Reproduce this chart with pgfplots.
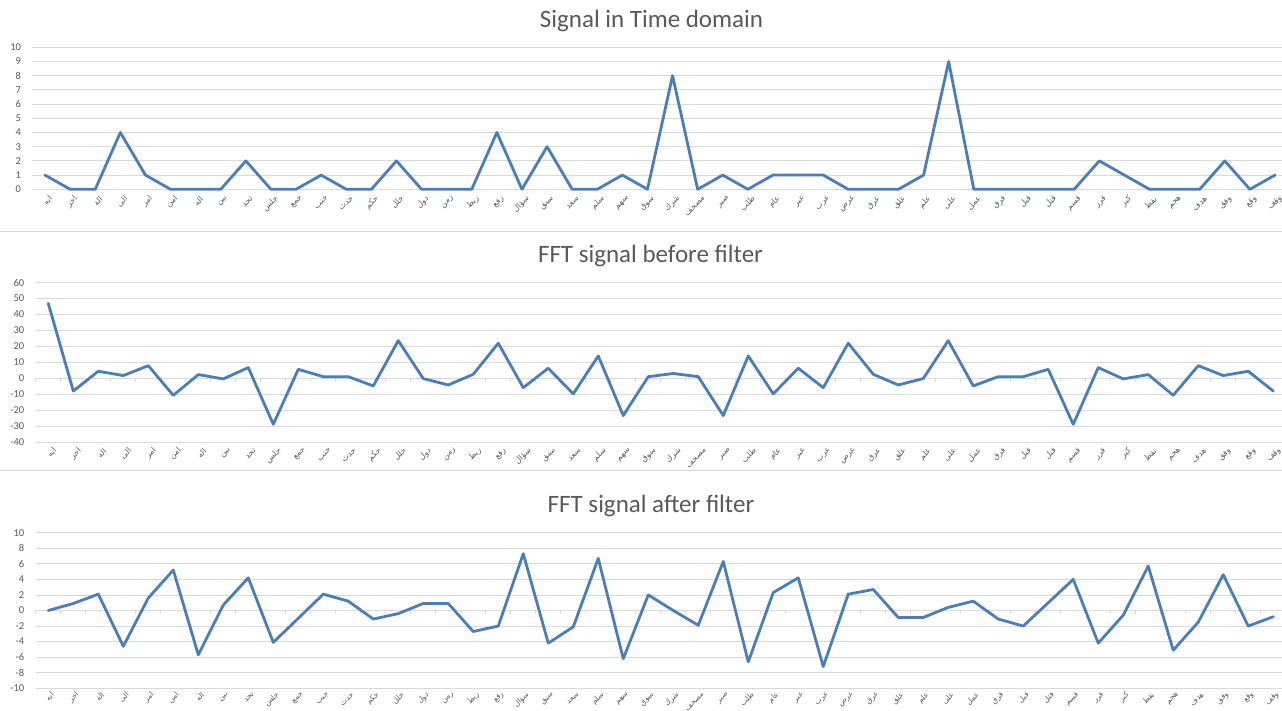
\documentclass[border=0pt]{standalone}
\usepackage{pgfplots}
\pgfplotsset{compat=1.18}
\usepackage{fontspec}
\setmainfont{Carlito}
\newfontfamily\arabicfont[Script=Arabic]{DejaVu Sans}
\TeXXeTstate=1
\newcommand{\ar}[1]{{\arabicfont\beginR #1\endR}}
\definecolor{sig}{HTML}{4A7EBB}
\definecolor{gridc}{HTML}{D9D9D9}
\definecolor{txt}{HTML}{595959}

\pgfplotstableread{
i v
0 1
1 0
2 0
3 4
4 1
5 0
6 0
7 0
8 2
9 0
10 0
11 1
12 0
13 0
14 2
15 0
16 0
17 0
18 4
19 0
20 3
21 0
22 0
23 1
24 0
25 8
26 0
27 1
28 0
29 1
30 1
31 1
32 0
33 0
34 0
35 1
36 9
37 0
38 0
39 0
40 0
41 0
42 2
43 1
44 0
45 0
46 0
47 2
48 0
49 1
}\timedata

\pgfplotstableread{
i v
0 47
1 -8
2 4.4
3 1.7
4 7.9
5 -10.7
6 2.3
7 -0.4
8 6.7
9 -28.9
10 5.6
11 1.0
12 1.0
13 -4.8
14 23.6
15 -0.2
16 -4.2
17 2.5
18 22.0
19 -5.9
20 6.3
21 -9.8
22 14.0
23 -23.4
24 1.0
25 3.0
26 1.0
27 -23.4
28 14.0
29 -9.8
30 6.3
31 -5.9
32 22.0
33 2.5
34 -4.2
35 -0.2
36 23.6
37 -4.8
38 1.0
39 1.0
40 5.6
41 -28.9
42 6.7
43 -0.4
44 2.3
45 -10.7
46 7.9
47 1.7
48 4.4
49 -8
}\beforedata

\pgfplotstableread{
i v
0 0.0
1 0.9
2 2.1
3 -4.6
4 1.6
5 5.2
6 -5.7
7 0.7
8 4.2
9 -4.1
10 -1.0
11 2.1
12 1.2
13 -1.1
14 -0.4
15 0.9
16 0.9
17 -2.7
18 -2.0
19 7.3
20 -4.2
21 -2.1
22 6.7
23 -6.2
24 2.0
25 0.0
26 -1.9
27 6.3
28 -6.6
29 2.3
30 4.2
31 -7.2
32 2.1
33 2.7
34 -0.9
35 -0.9
36 0.4
37 1.2
38 -1.1
39 -2.0
40 1.0
41 4.0
42 -4.2
43 -0.6
44 5.7
45 -5.1
46 -1.5
47 4.6
48 -2.0
49 -0.8
}\afterdata

\pgfplotsset{
  panel/.style={
    scale only axis,
    xmin=-0.5,
    axis line style={draw=none},
    ymajorgrids,
    grid style={gridc, line width=0.8pt},
    major tick length=0pt,
    xtick={0,...,49},
    xticklabels={\ar{ابه},\ar{اخر},\ar{الة},\ar{الى},\ar{امر},\ar{امن},\ar{اله},\ar{بين},\ar{تحد},\ar{جلس},\ar{جمع},\ar{جنب},\ar{حدث},\ar{حكم},\ar{خلل},\ar{دول},\ar{زمن},\ar{ربط},\ar{رفع},\ar{سؤال},\ar{سبق},\ar{سعد},\ar{سلم},\ar{سهم},\ar{سوق},\ar{شرك},\ar{مصحف},\ar{صبر},\ar{طلب},\ar{عام},\ar{عبر},\ar{عرب},\ar{عرض},\ar{عرق},\ar{علق},\ar{علم},\ar{على},\ar{عمل},\ar{فرق},\ar{قبل},\ar{قتل},\ar{قسم},\ar{قرر},\ar{كبر},\ar{نقط},\ar{هجم},\ar{هدف},\ar{وفق},\ar{وقع},\ar{وقف}},
    xticklabel style={rotate=45, anchor=east, font=\fontsize{8}{9}\selectfont, text=txt, inner sep=0.5pt, yshift=-10pt},
    yticklabel style={font=\fontsize{10.5}{12}\selectfont, text=txt, xshift=-8pt},
    /pgf/number format/assume math mode=true,
    clip=false,
  },
  sigline/.style={sig, line width=2.8pt, line join=round, line cap=round, mark=none},
}

\begin{document}
\begin{tikzpicture}[x=1pt,y=1pt]
\path[use as bounding box, fill=white] (0,0) rectangle (1282,711);
\draw[gridc, line width=0.8pt] (0,480) -- (1282,480);
\draw[gridc, line width=0.8pt] (0,241) -- (1282,241);

% Chart 1
\begin{axis}[panel, at={(32.5pt,521.7pt)}, anchor=south west,
  width=1249.5pt, height=142pt, xmax=49.28,
  ymin=0, ymax=10, ytick={0,1,...,10},
  xticklabel style={xshift=-1pt}]
\addplot[sigline] table[x=i,y=v]{\timedata};
\end{axis}
\node[text=txt, font=\fontsize{25}{28}\selectfont] at (651.5,690) {Signal in Time domain};

% Chart 2
\begin{axis}[panel, at={(35.8pt,269pt)}, anchor=south west,
  width=1246.2pt, height=159.3pt, xmax=49.35,
  ymin=-40, ymax=60, ytick={-40,-30,...,60}]
\pgfplotsinvokeforeach{0,...,49}{\draw[gridc, line width=1pt] (axis cs:#1-0.5,0) -- (axis cs:#1-0.5,-2.5);}
\addplot[sigline] table[x=i,y=v]{\beforedata};
\end{axis}
\node[text=txt, font=\fontsize{25}{28}\selectfont] at (650.5,455) {FFT signal before filter};

% Chart 3
\begin{axis}[panel, at={(35.8pt,22.7pt)}, anchor=south west,
  width=1246.2pt, height=155.6pt, xmax=49.35,
  ymin=-10, ymax=10, ytick={-10,-8,...,10},
  xticklabel style={yshift=3pt, font=\fontsize{7.5}{8}\selectfont}]
\pgfplotsinvokeforeach{0,...,49}{\draw[gridc, line width=1pt] (axis cs:#1-0.5,0) -- (axis cs:#1-0.5,-0.5);}
\addplot[sigline] table[x=i,y=v]{\afterdata};
\end{axis}
\node[text=txt, font=\fontsize{25}{28}\selectfont] at (651,205) {FFT signal after filter};
\end{tikzpicture}
\end{document}
